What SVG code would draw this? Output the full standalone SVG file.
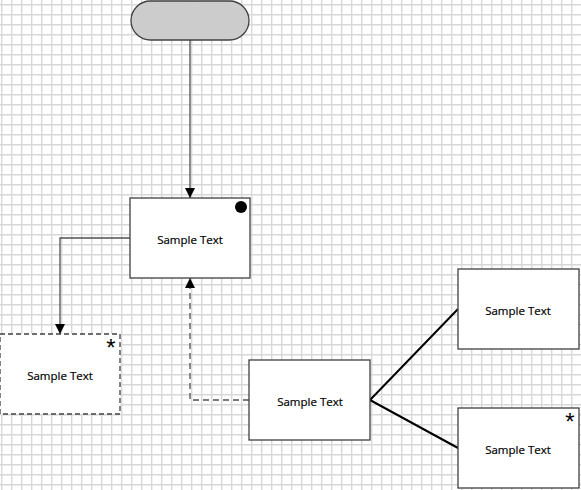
<svg xmlns="http://www.w3.org/2000/svg" width="581" height="490" viewBox="0 0 581 490">
<defs>
<pattern id="grid" x="1" y="4" width="10" height="10" patternUnits="userSpaceOnUse">
<path d="M0.5 0V10M0 0.5H10" stroke="#d8d8d8" stroke-width="1.8" fill="none"/>
</pattern>
<marker id="arr" viewBox="0 0 10 10" refX="10" refY="5" markerWidth="10" markerHeight="10" markerUnits="userSpaceOnUse" orient="auto">
<path d="M0 0L10 5L0 10Z" fill="#000"/>
</marker>
</defs>
<style>
.box{fill:#fff;stroke:#404040;stroke-width:1.3}
.lbl{font-family:"Open Sans","Noto Sans",sans-serif;font-size:11.5px;fill:#000;stroke:#000;stroke-width:0.2;text-anchor:middle;dominant-baseline:central}
.ast{font-family:"Liberation Sans",Arial,sans-serif;font-size:24px;fill:#000;text-anchor:middle}
.c{fill:none;stroke:#505050;stroke-width:1.3}
</style>
<rect width="581" height="490" fill="#fff"/>
<rect width="581" height="490" fill="url(#grid)"/>
<g id="connectors">
<path class="c" d="M190 40V198" marker-end="url(#arr)"/>
<path class="c" d="M130 238H60V334" marker-end="url(#arr)"/>
<path class="c" d="M249 400H190V278" stroke="#777" stroke-dasharray="6 4" marker-end="url(#arr)"/>
<path d="M370 400L458 309M370 400L458 448" fill="none" stroke="#000" stroke-width="2"/>
</g>
<g id="start">
<rect x="131" y="1" width="118" height="39" rx="19.5" fill="#cccccc" stroke="#404040" stroke-width="1.3"/>
</g>
<g id="node1">
<rect class="box" x="130" y="198" width="120" height="80"/>
<circle cx="241" cy="207" r="6" fill="#000"/>
<text class="lbl" x="190" y="239">Sample Text</text>
</g>
<g id="node2">
<rect class="box" x="0" y="334" width="120" height="80" stroke-dasharray="5 3"/>
<text class="ast" x="111" y="356">*</text>
<text class="lbl" x="60" y="375">Sample Text</text>
</g>
<g id="node3">
<rect class="box" x="249" y="360" width="121" height="80"/>
<text class="lbl" x="310" y="401">Sample Text</text>
</g>
<g id="node4">
<rect class="box" x="458" y="269" width="121" height="80"/>
<text class="lbl" x="518" y="310">Sample Text</text>
</g>
<g id="node5">
<rect class="box" x="458" y="408" width="121" height="80"/>
<text class="ast" x="570" y="430">*</text>
<text class="lbl" x="518" y="449">Sample Text</text>
</g>
</svg>
